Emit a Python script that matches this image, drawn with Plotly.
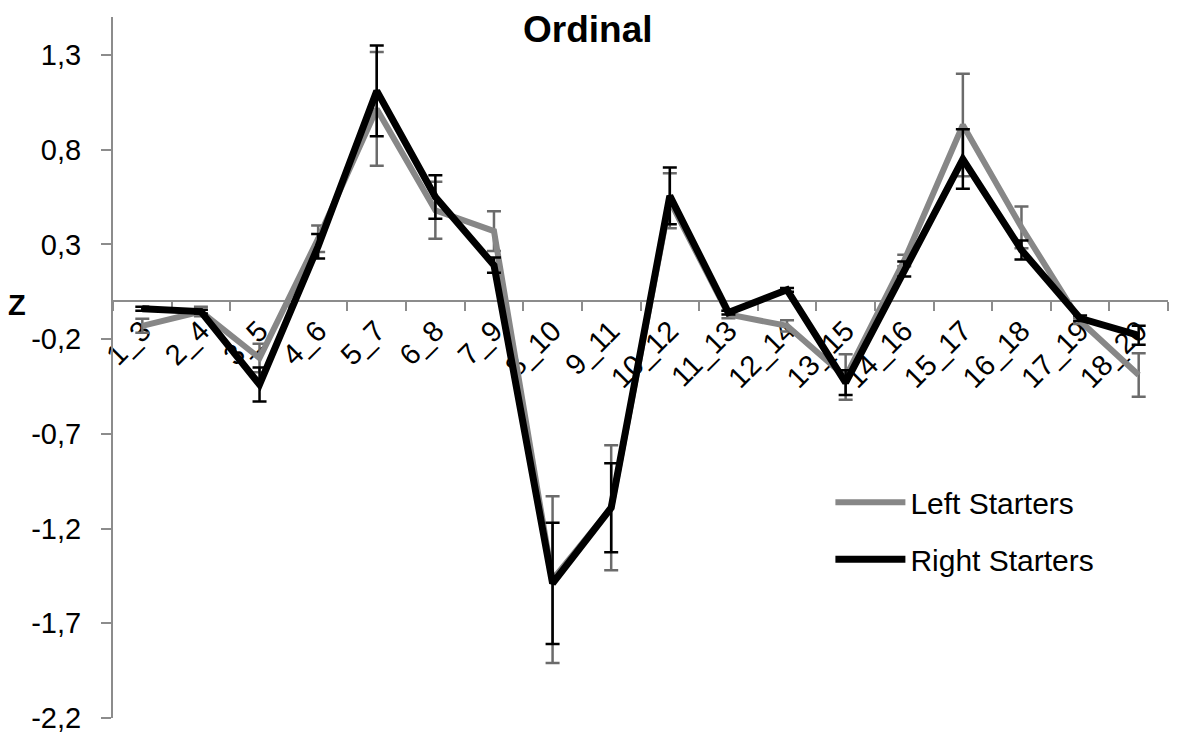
import plotly.graph_objects as go

# category labels (pairs)
pairs = ['1_3', '2_4', '3_5', '4_6', '5_7', '6_8', '7_9', '8_10', '9_11',
         '10_12', '11_13', '12_14', '13_15', '14_16', '15_17', '16_18',
         '17_19', '18_20']

# Left Starters (gray)
left_z = [-0.13, -0.055, -0.30, 0.33, 1.015, 0.48, 0.37, -1.47, -1.09,
          0.53, -0.07, -0.13, -0.40, 0.215, 0.93, 0.39, -0.105, -0.39]
left_err = [0.037, 0.025, 0.075, 0.07, 0.30, 0.15, 0.105, 0.44, 0.33,
            0.145, 0.02, 0.03, 0.12, 0.03, 0.27, 0.11, 0.015, 0.115]

# Right Starters (black)
right_z = [-0.04, -0.055, -0.44, 0.29, 1.11, 0.55, 0.19, -1.49, -1.09,
           0.556, -0.06, 0.06, -0.43, 0.17, 0.75, 0.27, -0.09, -0.18]
right_err = [0.01, 0.01, 0.09, 0.065, 0.24, 0.115, 0.04, 0.32, 0.235,
             0.15, 0.01, 0.01, 0.065, 0.04, 0.157, 0.05, 0.015, 0.05]

# y ticks, written the way the source chart shows them
y_ticks = [-2.2, -1.7, -1.2, -0.7, -0.2, 0.3, 0.8, 1.3]
y_tick_text = ['-2,2', '-1,7', '-1,2', '-0,7', '-0,2', '0,3', '0,8', '1,3']

y_min, y_max = -2.2, 1.5
GRAY = '#878787'
AXIS = '#8c8c8c'
FONT = 'Liberation Sans, Arial, sans-serif'

fig = go.Figure()

fig.add_trace(go.Scatter(
    x=pairs, y=left_z, mode='lines', name='Left Starters',
    legendgroup='left',
    line=dict(color=GRAY, width=6),
    error_y=dict(type='data', array=left_err, visible=True,
                 color='#6b6b6b', thickness=2.5, width=7),
))
fig.add_trace(go.Scatter(
    x=pairs, y=right_z, mode='lines', name='Right Starters',
    legendgroup='right',
    line=dict(color='black', width=7),
    error_y=dict(type='data', array=right_err, visible=True,
                 color='black', thickness=2.5, width=7),
))

# x axis crosses at z = 0
zero_pos = (0 - y_min) / (y_max - y_min)

# the page body has an 8px margin, so the figure is a bit smaller
plot_h = 727 - 9 - 17
fig.update_layout(
    width=1165, height=727,
    margin=dict(l=105, r=5, t=9, b=17, autoexpand=False),
    paper_bgcolor='white', plot_bgcolor='white',
    font=dict(family=FONT, size=28, color='black'),
    showlegend=True,
    legend=dict(x=0.68, y=0.345, xanchor='left', yanchor='top',
                font=dict(size=30), tracegroupgap=15, itemwidth=70,
                bgcolor='rgba(0,0,0,0)'),
    xaxis=dict(type='category', range=[-0.5, len(pairs) - 0.5],
               anchor='free', position=zero_pos, automargin=False,
               showline=True, linecolor=AXIS, linewidth=2,
               ticks='outside', tickson='boundaries', ticklen=9,
               tickwidth=2, tickcolor=AXIS,
               tickangle=-45, tickfont=dict(size=29),
               showgrid=False, zeroline=False, layer='below traces'),
    yaxis=dict(range=[y_min, y_max], tickmode='array', automargin=False,
               tickvals=y_ticks, ticktext=y_tick_text,
               showline=True, linecolor=AXIS, linewidth=2,
               ticks='outside', ticklen=10, tickwidth=2, tickcolor=AXIS,
               ticklabelstandoff=14, ticklabeloverflow='allow',
               tickfont=dict(size=29),
               showgrid=False, zeroline=False),
    annotations=[
        dict(text='<b>Ordinal</b>', xref='paper', yref='paper',
             x=(580 - 105) / 1055, y=1 + 9 / plot_h,
             xanchor='center', yanchor='top', borderpad=0,
             showarrow=False, font=dict(size=37)),
        dict(text='<b>Z</b>', xref='paper', yref='y',
             x=-96 / 1055, y=-0.02, xanchor='center', yanchor='middle',
             borderpad=0, showarrow=False, font=dict(size=29)),
    ],
)

fig.write_html('out.html')
